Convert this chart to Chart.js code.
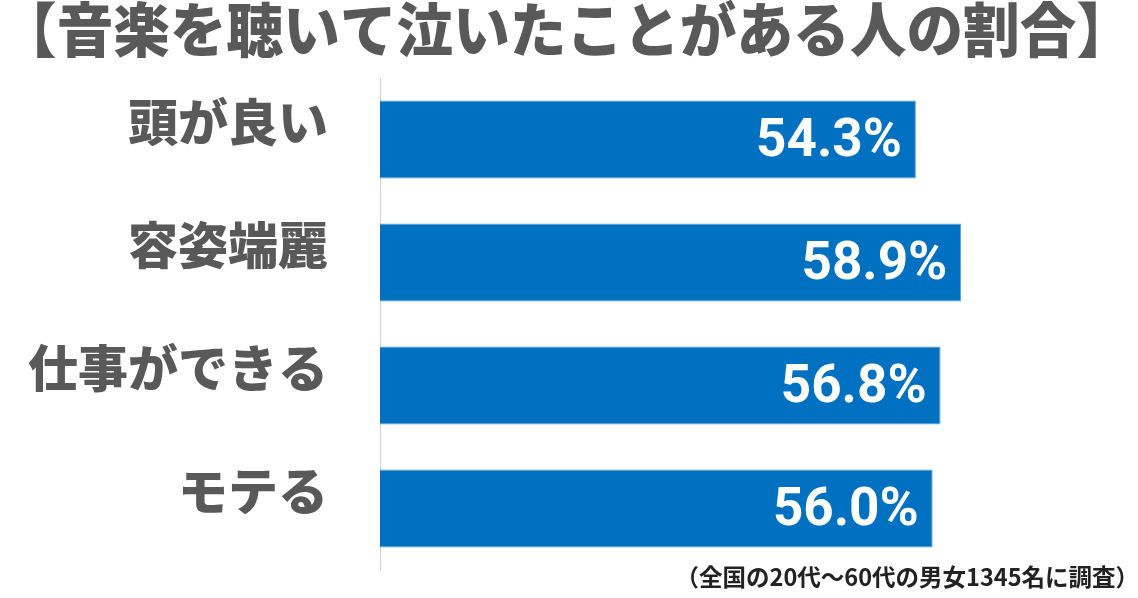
<!DOCTYPE html>
<html>
<head>
<meta charset="utf-8">
<script src="https://cdn.jsdelivr.net/npm/chart.js@4.4.1/dist/chart.umd.min.js"></script>
<style>
  html, body { margin: 0; padding: 0; background: #ffffff; }
  #wrap { width: 1138px; height: 598px; }
</style>
</head>
<body>
<div id="wrap"><canvas id="c"></canvas></div>
<script>
const titleText = "【音楽を聴いて泣いたことがある人の割合】";
const noteText = "（全国の20代～60代の男女1345名に調査）";
const categories = ["頭が良い", "容姿端麗", "仕事ができる", "モテる"];
const values = [54.3, 58.9, 56.8, 56.0];

const CJK = "'Noto Sans CJK JP', 'Noto Sans', sans-serif";

const valueLabels = {
  id: 'valueLabels',
  afterDatasetsDraw(chart) {
    const ctx = chart.ctx;
    const meta = chart.getDatasetMeta(0);
    ctx.save();
    ctx.fillStyle = '#ffffff';
    ctx.font = "bold 53px Roboto, 'Open Sans', sans-serif";
    ctx.textAlign = 'right';
    ctx.textBaseline = 'alphabetic';
    meta.data.forEach((bar, i) => {
      const v = chart.data.datasets[0].data[i];
      ctx.fillText(v.toFixed(1) + '%', bar.x - 14, bar.y + 16);
    });
    ctx.restore();
  }
};

const footnote = {
  id: 'footnote',
  afterDraw(chart) {
    const ctx = chart.ctx;
    ctx.save();
    ctx.fillStyle = '#222222';
    ctx.font = "bold 23.5px " + CJK;
    ctx.textAlign = 'right';
    ctx.textBaseline = 'middle';
    ctx.fillText(noteText, chart.width + 1, chart.height - 21);
    ctx.restore();
  }
};

new Chart(document.getElementById('c'), {
  type: 'bar',
  data: {
    labels: categories,
    datasets: [{
      data: values,
      backgroundColor: '#0070C0',
      borderColor: '#5A9BD5',
      borderWidth: 1,
      borderSkipped: 'start',
      categoryPercentage: 1.0,
      barPercentage: 0.634
    }]
  },
  options: {
    indexAxis: 'y',
    responsive: true,
    maintainAspectRatio: false,
    animation: false,
    devicePixelRatio: 1,
    layout: { padding: { left: 0, right: 5, top: 0, bottom: 28 } },
    plugins: {
      legend: { display: false },
      tooltip: { enabled: false },
      title: {
        display: true,
        text: titleText,
        color: '#595959',
        font: { family: CJK, size: 59.5, weight: 900, lineHeight: 1.0 },
        padding: { top: 0, bottom: 18.5 }
      }
    },
    scales: {
      x: {
        display: false,
        min: 0,
        max: 76.3
      },
      y: {
        afterFit(scale) {
          scale.width = 380;
          scale.paddingTop = 0;
          scale.paddingBottom = 0;
        },
        grid: { display: false, drawTicks: false },
        border: { display: true, color: '#d0d0d0', width: 1 },
        ticks: {
          color: '#595959',
          font: { family: CJK, size: 50, weight: 900 },
          padding: 52,
          labelOffset: -18
        }
      }
    }
  },
  plugins: [valueLabels, footnote]
});
</script>
</body>
</html>
